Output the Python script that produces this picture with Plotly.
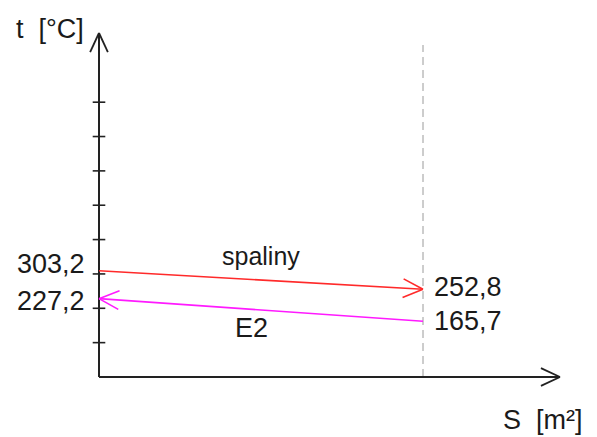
import math
import plotly.graph_objects as go

# ---- data ----
series_names = ["spaliny", "E2"]
spaliny_T = [303.2, 252.8]      # inlet (S=0), outlet (S=S_end)
e2_T = [227.2, 165.7]           # outlet at S=0, inlet at S=S_end
S_values = [0.0, 1.0]
spaliny_labels = ["303,2", "252,8"]
e2_labels = ["227,2", "165,7"]
tick_T = [107.4, 201.0, 294.6, 388.2, 481.8, 575.4, 669.0, 762.6]
y_axis_title = "t\u00a0\u00a0[°C]"
x_axis_title = "S\u00a0\u00a0[m²]"

# ---- layout constants ----
OFF = 8                      # page body margin
W, H = 597 - OFF, 437 - OFF
PX_PER_S = 324.0
X0_WIN = 99                  # window px of S = 0
T_PER_PX = 2.7248
T_REF, PY_REF = 237.2, 295   # window py of T_REF
XR = [-(X0_WIN - OFF) / PX_PER_S, (W - (X0_WIN - OFF)) / PX_PER_S]
YR = [T_REF + (PY_REF - (H + OFF)) * T_PER_PX, T_REF + (PY_REF - OFF) * T_PER_PX]
T_ORIGIN = 13.8
T_TOP = 951.1
S_TIP = 1.4228
FONT = "Liberation Sans, Arial, sans-serif"
TXT = "#1a1a1a"
RED = "#ff2a2a"
MAG = "#ff1aff"


def to_px(x, y):
    px = (x - XR[0]) / (XR[1] - XR[0]) * W
    py = H - (y - YR[0]) / (YR[1] - YR[0]) * H
    return px, py


def to_data(px, py):
    x = XR[0] + px / W * (XR[1] - XR[0])
    y = YR[0] + (H - py) / H * (YR[1] - YR[0])
    return x, y


def arrow_wings(tail, tip, length=22, ang=25):
    tx, ty = to_px(*tail)
    hx, hy = to_px(*tip)
    d = math.atan2(hy - ty, hx - tx)
    xs, ys = [], []
    for s in (1, -1):
        a = d + math.pi + s * math.radians(ang)
        wx, wy = to_data(hx + length * math.cos(a), hy + length * math.sin(a))
        xs += [wx, tip[0], None]
        ys += [wy, tip[1], None]
    return xs, ys


fig = go.Figure()

# dashed vertical line at S_end
fig.add_trace(go.Scatter(x=[S_values[1], S_values[1]], y=[T_ORIGIN, to_data(0, 45 - OFF)[1]],
                         mode="lines", line=dict(color="#9a9a9a", width=1, dash="8px,5px"),
                         hoverinfo="skip", showlegend=False))

# axes
fig.add_trace(go.Scatter(x=[0, 0, None, 0, S_TIP], y=[T_TOP, T_ORIGIN, None, T_ORIGIN, T_ORIGIN],
                         mode="lines", line=dict(color="#222222", width=2),
                         hoverinfo="skip", showlegend=False))
ax, ay = arrow_wings((0, T_ORIGIN), (0, T_TOP), length=21)
bx, by = arrow_wings((0, T_ORIGIN), (S_TIP, T_ORIGIN), length=21)
fig.add_trace(go.Scatter(x=ax + bx, y=ay + by, mode="lines",
                         line=dict(color="#222222", width=1.8),
                         hoverinfo="skip", showlegend=False))

# tick marks
fig.add_trace(go.Scatter(x=[0] * len(tick_T), y=tick_T, mode="markers",
                         marker=dict(symbol="line-ew", size=9,
                                     line=dict(color="#222222", width=1.6)),
                         hoverinfo="skip", showlegend=False))

# spaliny (flows left -> right)
fig.add_trace(go.Scatter(x=S_values, y=spaliny_T, mode="lines", name=series_names[0],
                         line=dict(color=RED, width=1.6), showlegend=False))
wx, wy = arrow_wings((S_values[0], spaliny_T[0]), (S_values[1], spaliny_T[1]))
fig.add_trace(go.Scatter(x=wx, y=wy, mode="lines", line=dict(color=RED, width=1.6),
                         hoverinfo="skip", showlegend=False))

# E2 (flows right -> left)
fig.add_trace(go.Scatter(x=S_values, y=e2_T, mode="lines", name=series_names[1],
                         line=dict(color=MAG, width=1.6), showlegend=False))
wx, wy = arrow_wings((S_values[1], e2_T[1]), (S_values[0], e2_T[0]))
fig.add_trace(go.Scatter(x=wx, y=wy, mode="lines", line=dict(color=MAG, width=1.6),
                         hoverinfo="skip", showlegend=False))

ann = []
fs = 27
ann.append(dict(x=S_values[0], y=spaliny_T[0], text=spaliny_labels[0], xanchor="right",
                yanchor="middle", xshift=-12, yshift=7))
ann.append(dict(x=S_values[0], y=e2_T[0], text=e2_labels[0], xanchor="right",
                yanchor="middle", xshift=-12, yshift=-2))
ann.append(dict(x=S_values[1], y=spaliny_T[1], text=spaliny_labels[1], xanchor="left",
                yanchor="middle", xshift=9, yshift=2))
ann.append(dict(x=S_values[1], y=e2_T[1], text=e2_labels[1], xanchor="left",
                yanchor="middle", xshift=9, yshift=0))
ann.append(dict(x=(S_values[0] + S_values[1]) / 2, y=(spaliny_T[0] + spaliny_T[1]) / 2,
                text=series_names[0], xanchor="center", yanchor="middle", yshift=24,
                font=dict(size=25)))
ann.append(dict(x=0.47, y=(e2_T[0] + e2_T[1]) / 2, text=series_names[1],
                xanchor="center", yanchor="middle", yshift=-18))
for a in ann:
    a.update(xref="x", yref="y", showarrow=False)
    a.setdefault("font", dict(size=fs))
    a["font"] = dict(family=FONT, color=TXT, size=a["font"].get("size", fs))

ann.append(dict(x=(14 - OFF) / W, y=1 - (29 - OFF) / H, xref="paper", yref="paper",
                text=y_axis_title, xanchor="left", yanchor="middle", showarrow=False,
                font=dict(family=FONT, size=27, color=TXT)))
ann.append(dict(x=(501 - OFF) / W, y=1 - (420 - OFF) / H, xref="paper", yref="paper",
                text=x_axis_title, xanchor="left", yanchor="middle", showarrow=False,
                font=dict(family=FONT, size=27, color=TXT)))

fig.update_layout(
    width=W, height=H,
    margin=dict(l=0, r=0, t=0, b=0),
    paper_bgcolor="white", plot_bgcolor="white",
    xaxis=dict(range=XR, visible=False, fixedrange=True),
    yaxis=dict(range=YR, visible=False, fixedrange=True),
    annotations=ann,
    showlegend=False,
)

fig.write_html("out.html")
